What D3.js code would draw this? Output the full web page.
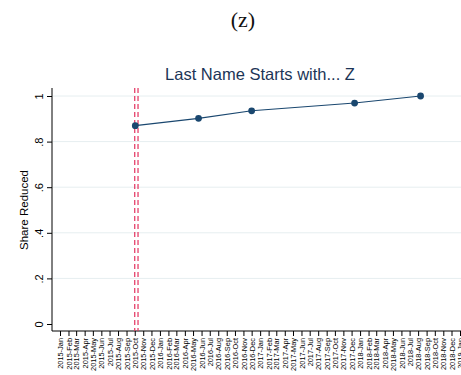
<!DOCTYPE html>
<html>
<head>
<meta charset="utf-8">
<script src="https://cdn.jsdelivr.net/npm/d3@7/dist/d3.min.js"></script>
<style>
  html, body { margin: 0; padding: 0; background: #fff; }
  svg { display: block; }
</style>
</head>
<body>
<svg id="chart" width="461" height="375"></svg>
<script>
// Observation dates and the share reduced at each
const obsDates = ["2015-10-03", "2016-05-21", "2016-12-01", "2017-12-12", "2018-08-10"];
const shareReduced = [0.87, 0.902, 0.935, 0.969, 1.0];

// Reference event dates (vertical dashed lines)
const eventDates = ["2015-10-01", "2015-10-13"];

// Axis ticks
const yTicks = [0, 0.2, 0.4, 0.6, 0.8, 1];
const yTickLabels = ["0", ".2", ".4", ".6", ".8", "1"];
const monthStart = "2015-01-01";
const monthEnd = "2019-01-01";

const panelLabel = "(z)";
const chartTitle = "Last Name Starts with... Z";
const yTitle = "Share Reduced";

const parse = d3.utcParse("%Y-%m-%d");
const fmtMonth = d3.utcFormat("%Y-%b");

const svg = d3.select("#chart");
const navy = "#1a476f";
const sans = "'Liberation Sans', Arial, sans-serif";

const x = d3.scaleUtc()
  .domain([parse(monthStart), parse(monthEnd)])
  .range([60, 460]);
const y = d3.scaleLinear().domain([0, 1]).range([324, 96]);

const plotLeft = 52, plotRight = 461, axisY = 331;

// Panel label and title
svg.append("text")
  .attr("x", 243).attr("y", 27)
  .attr("text-anchor", "middle")
  .attr("font-family", "'Liberation Serif', 'DejaVu Serif', serif")
  .attr("font-size", 22)
  .attr("fill", "#111")
  .text(panelLabel);

svg.append("text")
  .attr("x", 260).attr("y", 80)
  .attr("text-anchor", "middle")
  .attr("font-family", sans)
  .attr("font-size", 16.5)
  .attr("fill", "#1c3557")
  .text(chartTitle);

// Horizontal gridlines
svg.append("g").selectAll("line")
  .data(yTicks.filter(v => v > 0))
  .join("line")
  .attr("x1", plotLeft + 1).attr("x2", plotRight)
  .attr("y1", d => y(d)).attr("y2", d => y(d))
  .attr("stroke", "#e6eef0").attr("stroke-width", 1);

// Y axis, labels rotated to read bottom-to-top
const yAxis = svg.append("g")
  .attr("transform", `translate(${plotLeft},0)`)
  .call(d3.axisLeft(y).tickValues(yTicks)
    .tickFormat((d, i) => yTickLabels[i]).tickSize(5));
yAxis.select(".domain").attr("d", `M0,${axisY}V88`).attr("stroke", "#000");
yAxis.selectAll(".tick line").attr("stroke", "#000");
yAxis.selectAll(".tick text")
  .attr("font-family", sans)
  .attr("font-size", 11)
  .attr("fill", "#000")
  .attr("text-anchor", "middle")
  .attr("transform", "rotate(-90)")
  .attr("x", 0)
  .attr("y", -9)
  .attr("dy", 0);

svg.append("text")
  .attr("transform", "translate(28,210) rotate(-90)")
  .attr("text-anchor", "middle")
  .attr("font-family", sans)
  .attr("font-size", 11.5)
  .attr("fill", "#000")
  .text(yTitle);

// X axis with monthly ticks
const months = d3.utcMonth.range(parse(monthStart), d3.utcDay.offset(parse(monthEnd), 1));
const xAxis = svg.append("g")
  .attr("transform", `translate(0,${axisY})`)
  .call(d3.axisBottom(x).tickValues(months).tickFormat(fmtMonth).tickSize(5));
xAxis.select(".domain").attr("d", `M${plotLeft},0H${plotRight}`).attr("stroke", "#000");
xAxis.selectAll(".tick line").attr("stroke", "#000");
xAxis.selectAll(".tick text")
  .attr("font-family", sans)
  .attr("font-size", 7.4)
  .attr("fill", "#000")
  .attr("text-anchor", "end")
  .attr("transform", "rotate(-90)")
  .attr("x", -7)
  .attr("y", 0)
  .attr("dy", "0.35em");

// Event lines
svg.append("g").selectAll("line")
  .data(eventDates)
  .join("line")
  .attr("x1", d => x(parse(d))).attr("x2", d => x(parse(d)))
  .attr("y1", 88).attr("y2", axisY)
  .attr("stroke", "#e3325f")
  .attr("stroke-width", 1.2)
  .attr("stroke-dasharray", "5,3");

// Series line and markers
const pts = obsDates.map((d, i) => ({ date: parse(d), v: shareReduced[i] }));
svg.append("path")
  .datum(pts)
  .attr("fill", "none")
  .attr("stroke", navy)
  .attr("stroke-width", 1.1)
  .attr("d", d3.line().x(d => x(d.date)).y(d => y(d.v)));

svg.append("g").selectAll("circle")
  .data(pts)
  .join("circle")
  .attr("cx", d => x(d.date)).attr("cy", d => y(d.v))
  .attr("r", 3.4)
  .attr("fill", navy);
</script>
</body>
</html>
